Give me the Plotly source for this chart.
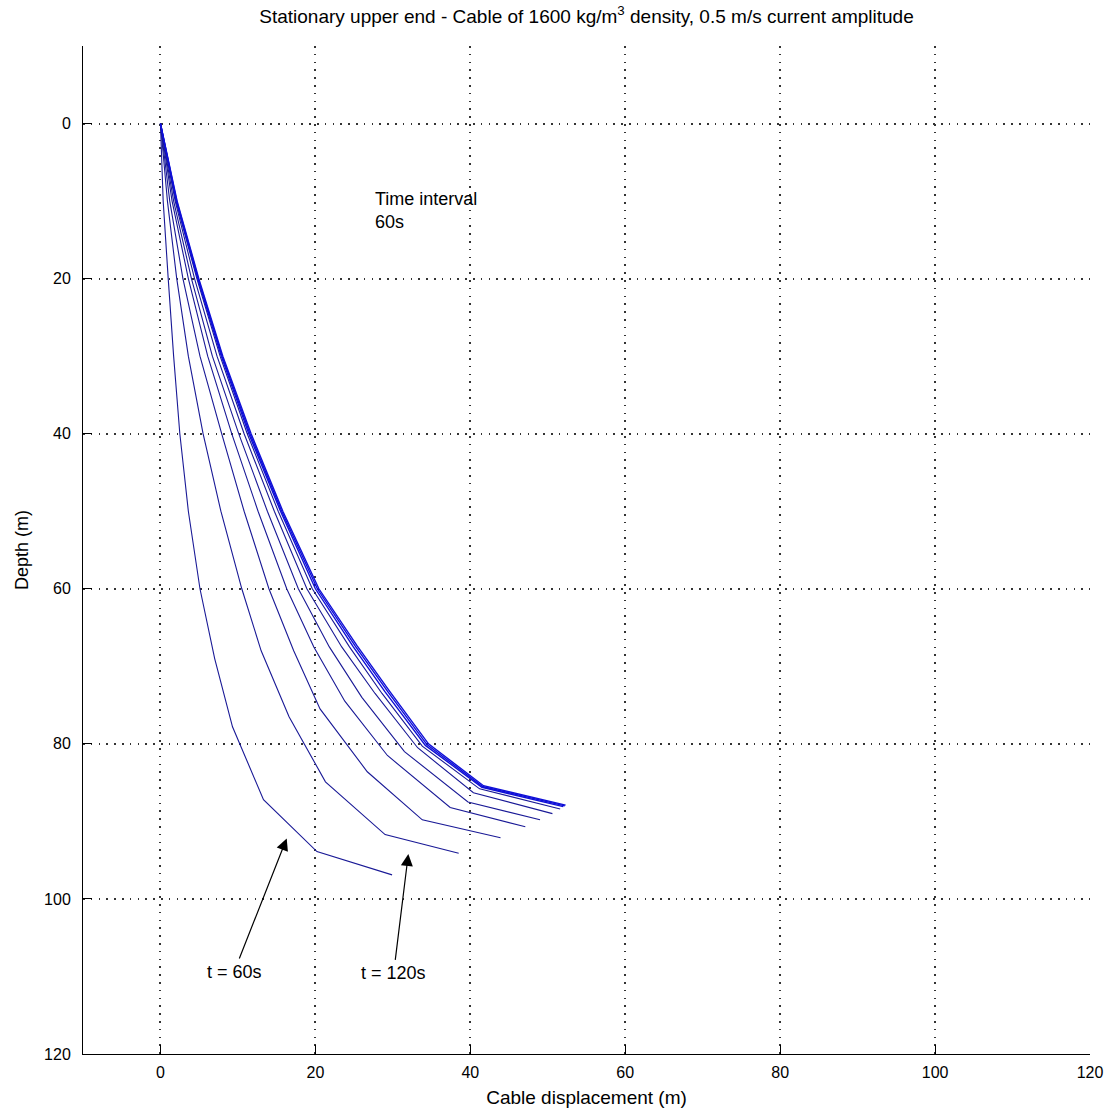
import plotly.graph_objects as go

# Cable profiles (displacement x, depth) sampled every 60 s
times = [60, 120, 180, 240, 300, 360, 420, 480, 540, 600]

disp = [
    [0, 0.35, 1.0, 1.7, 2.5, 3.6, 5.1, 7.0, 9.3, 13.3, 20.2, 29.9],
    [0, 0.9, 2.1, 3.6, 5.5, 7.8, 10.5, 13.0, 16.6, 21.3, 29.0, 38.5],
    [0, 1.2, 2.9, 5.1, 7.9, 10.8, 14.0, 17.2, 20.6, 26.7, 33.8, 43.9],
    [0, 1.5, 3.6, 6.1, 9.2, 12.6, 16.3, 19.8, 23.8, 29.3, 37.4, 47.1],
    [0, 1.7, 4.0, 6.7, 10.1, 13.8, 17.8, 21.8, 26.0, 31.5, 39.7, 49.0],
    [0, 1.9, 4.4, 7.3, 10.8, 14.7, 18.9, 23.4, 27.7, 33.2, 40.4, 50.6],
    [0, 2.0, 4.7, 7.7, 11.2, 15.2, 19.6, 24.4, 28.6, 33.8, 41.2, 51.6],
    [0, 2.05, 4.8, 7.85, 11.4, 15.5, 20.0, 24.9, 29.0, 34.2, 41.5, 52.0],
    [0, 2.1, 4.88, 7.95, 11.55, 15.65, 20.25, 25.15, 29.3, 34.4, 41.6, 52.2],
    [0, 2.15, 4.95, 8.05, 11.7, 15.8, 20.45, 25.35, 29.5, 34.6, 41.7, 52.3],
]

depth = [
    [0, 10, 20, 30, 40, 50, 60, 69, 77.8, 87.2, 93.9, 96.9],
    [0, 10, 20, 30, 40, 50, 60, 68, 76.5, 84.9, 91.7, 94.1],
    [0, 10, 20, 30, 40, 50, 60, 68, 75.5, 83.6, 89.8, 92.1],
    [0, 10, 20, 30, 40, 50, 60, 67.5, 74.5, 81.5, 88.2, 90.7],
    [0, 10, 20, 30, 40, 50, 60, 67.5, 74, 81, 87.5, 89.8],
    [0, 10, 20, 30, 40, 50, 60, 67.5, 73.5, 80.5, 86.3, 89.0],
    [0, 10, 20, 30, 40, 50, 60, 67.5, 73.5, 80.3, 85.8, 88.4],
    [0, 10, 20, 30, 40, 50, 60, 67.5, 73.3, 80.2, 85.6, 88.1],
    [0, 10, 20, 30, 40, 50, 60, 67.4, 73.2, 80.1, 85.5, 88.0],
    [0, 10, 20, 30, 40, 50, 60, 67.3, 73.1, 80.0, 85.4, 87.9],
]

x_ticks = [0, 20, 40, 60, 80, 100, 120]
y_ticks = [0, 20, 40, 60, 80, 100, 120]

FONT = "Liberation Sans, Arial, Helvetica, sans-serif"

fig = go.Figure()
for i, (t, xs, ds) in enumerate(zip(times, disp, depth)):
    # later profiles bunch together into a heavy blue band
    late = i >= 7
    fig.add_trace(go.Scatter(
        x=xs, y=ds, mode="lines", name=f"t = {t}s",
        line=dict(color="rgb(15,15,215)" if late else "rgb(25,25,150)",
                  width=1.4 if late else 1.1),
        showlegend=False,
    ))

axis_common = dict(
    showgrid=True, gridcolor="#333", gridwidth=1.5, griddash="1.5px,6.3px",
    zeroline=False, showline=True, linecolor="black", linewidth=1,
    ticks="inside", ticklen=9, tickcolor="black",
    tickfont=dict(family=FONT, size=16, color="black"),
    mirror=False, automargin=False,
)

fig.update_layout(
    width=1113, height=1114,
    margin=dict(l=83, r=23, t=46, b=60),
    paper_bgcolor="white", plot_bgcolor="white",
    font=dict(family=FONT, size=16, color="black"),
    title=dict(
        text="Stationary upper end - Cable of 1600 kg/m<sup>3</sup> density, 0.5 m/s current amplitude",
        x=(83 + 1090) / 2 / 1113, xanchor="center", y=1 - 16 / 1114, yanchor="middle",
        font=dict(family=FONT, size=19, color="black"),
    ),
    xaxis=dict(
        range=[-10, 120], tickvals=x_ticks, ticklabelstandoff=4,
        title=dict(text="Cable displacement (m)", standoff=10,
                   font=dict(family=FONT, size=19)),
        **axis_common,
    ),
    yaxis=dict(
        range=[120, -10], tickvals=y_ticks, ticklabelstandoff=8,
        title=dict(text="Depth (m)", standoff=10,
                   font=dict(family=FONT, size=18)),
        **axis_common,
    ),
)

# Text note
fig.add_annotation(x=27.5, y=11.2, xref="x", yref="y", showarrow=False,
                   text="Time interval<br>60s", align="left", xanchor="left",
                   font=dict(family=FONT, size=18, color="black"))

# Labelled arrows pointing at the first two profiles (label sits at the tail)
for (label, hx, hy, tx, ty) in [("t = 60s", 16.3, 92.2, 9.5, 109.4),
                                ("t = 120s", 32.0, 94.2, 30.1, 109.6)]:
    fig.add_annotation(x=hx, y=hy, ax=tx, ay=ty, xref="x", yref="y",
                       axref="x", ayref="y", text=label, showarrow=True,
                       arrowhead=2, arrowsize=2, arrowwidth=1.2,
                       arrowcolor="black", startstandoff=2,
                       font=dict(family=FONT, size=18, color="black"))

fig.write_html("out.html")
